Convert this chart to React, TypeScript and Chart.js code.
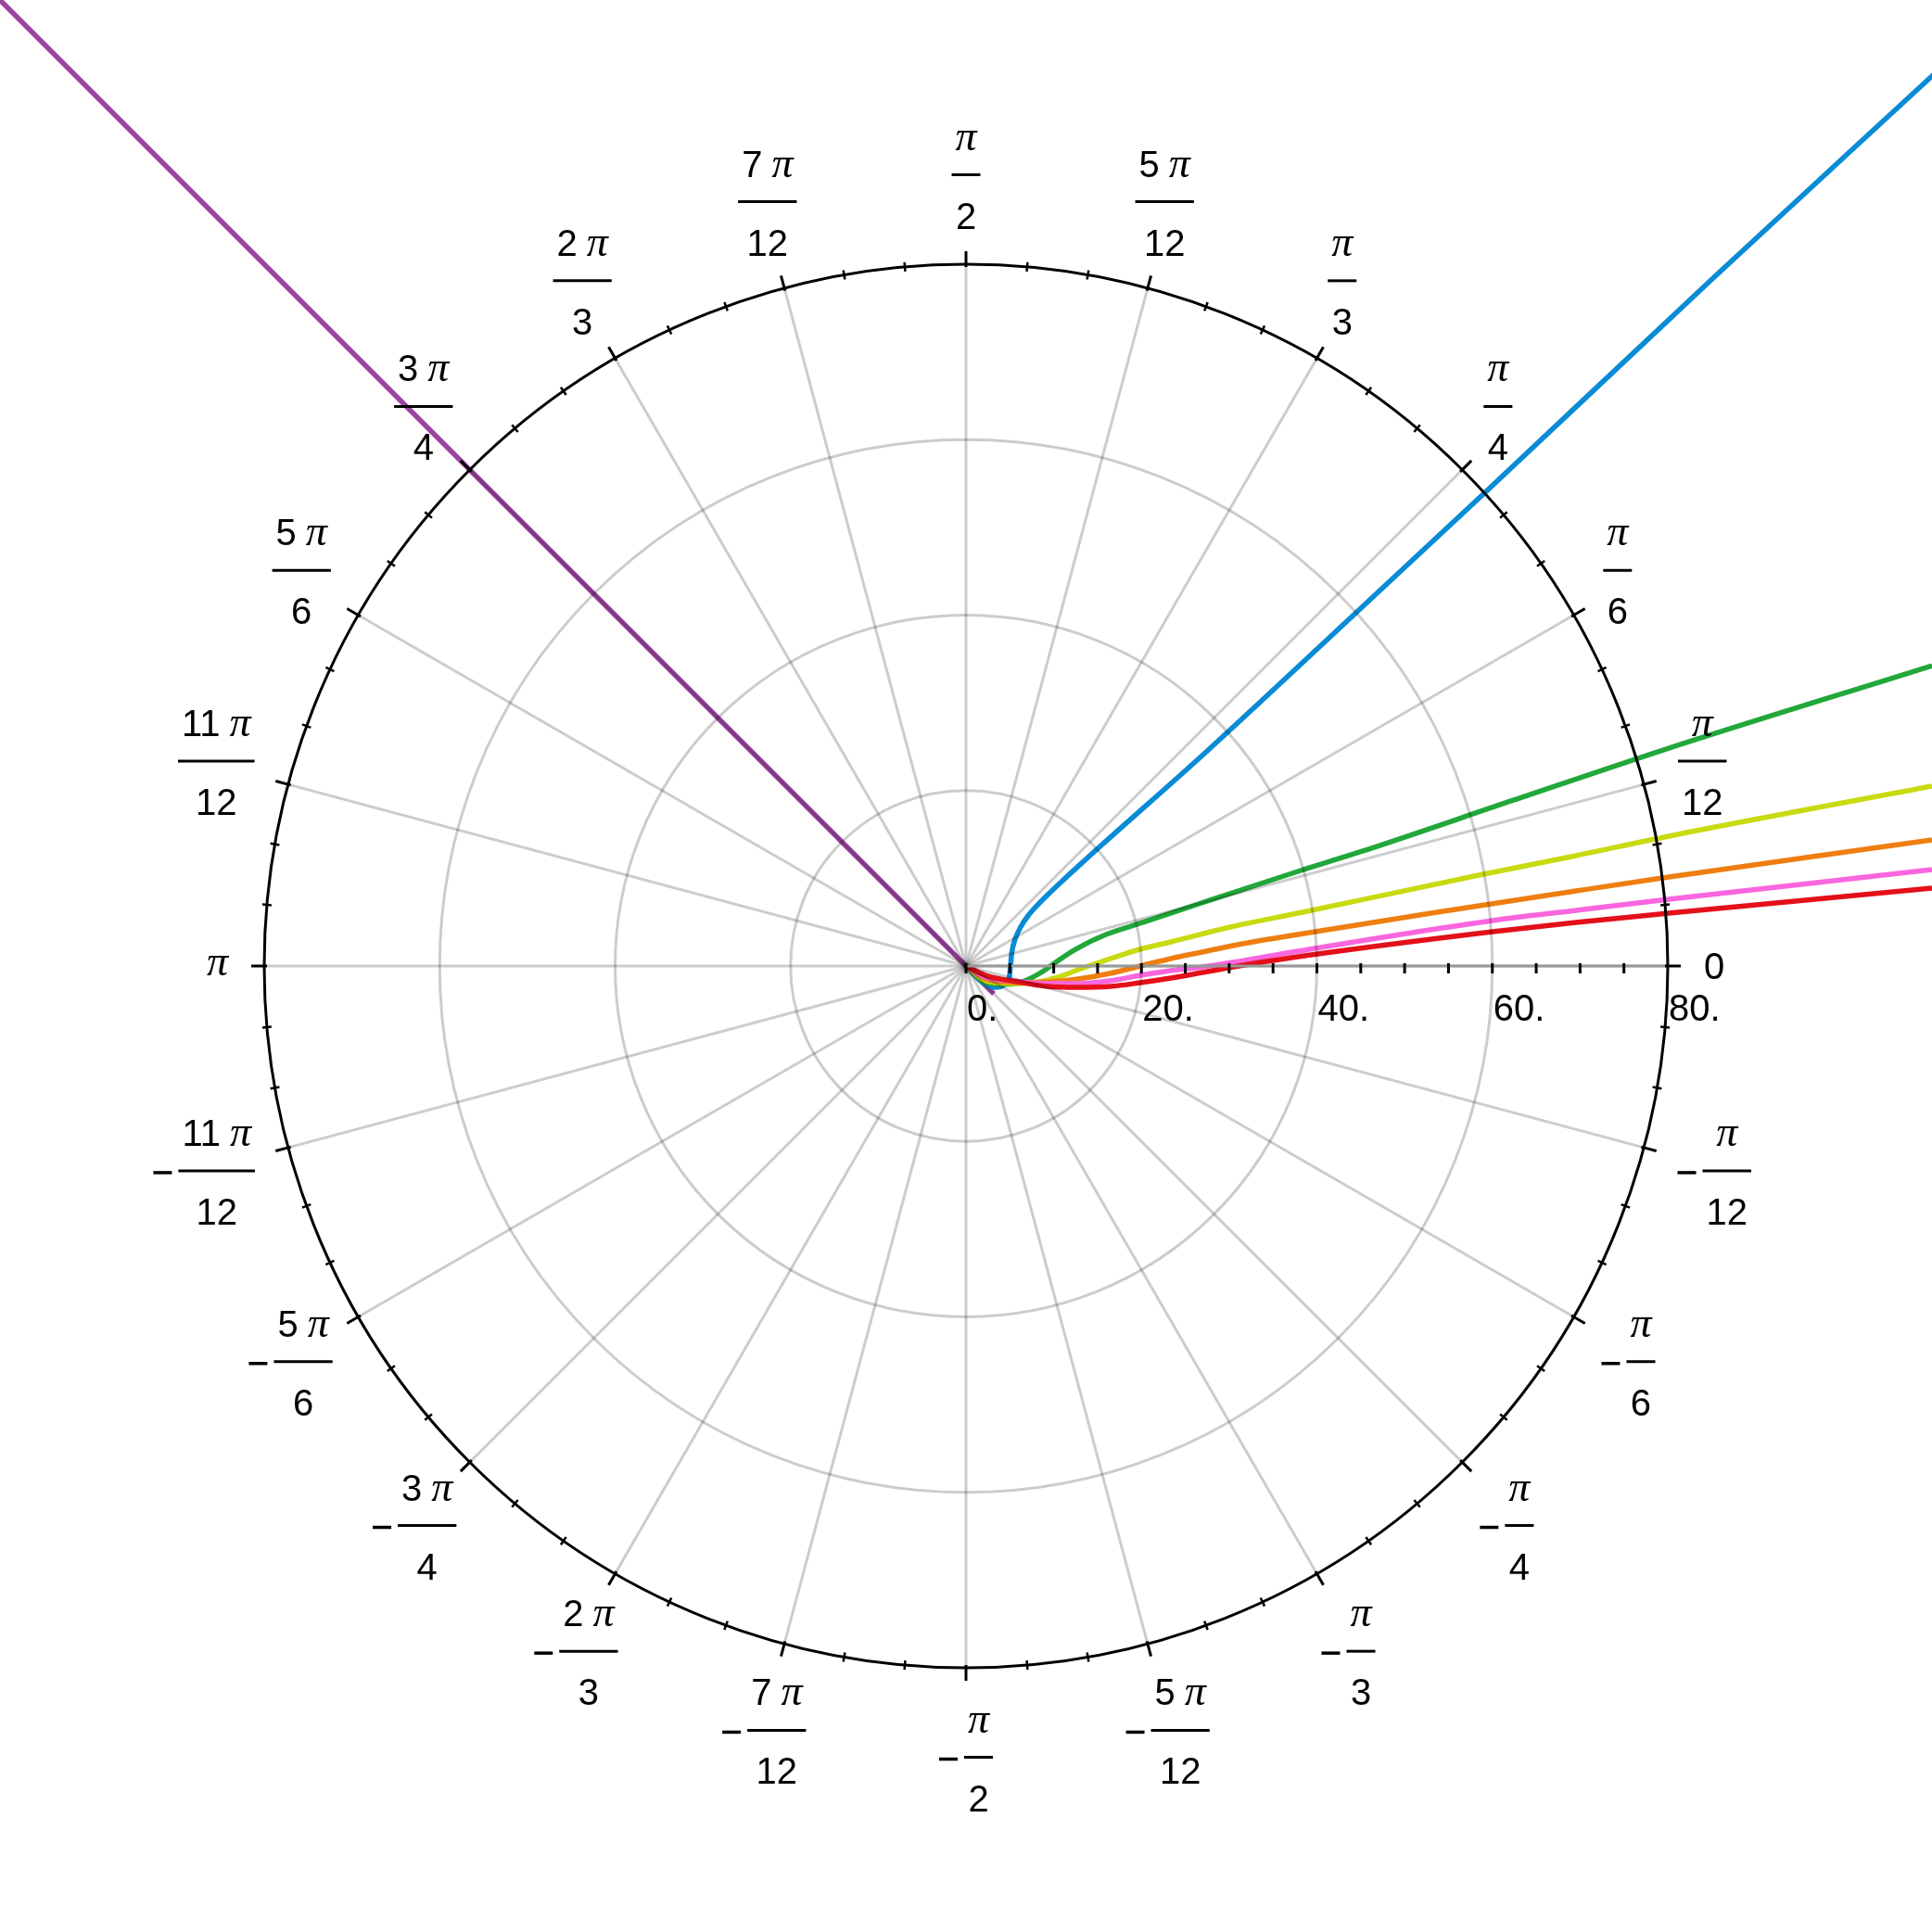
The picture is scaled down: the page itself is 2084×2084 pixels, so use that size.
import React, { useEffect, useRef } from "react";
import { Chart, registerables } from "chart.js";

Chart.register(...registerables);

// ---------------- data (x, y in plot units) ----------------
const RADIAL_MAX = 80;
const radialGridValues = [20, 40, 60];
const radialTickValues = [0, 5, 10, 15, 20, 25, 30, 35, 40, 45, 50, 55, 60, 65, 70, 75];
const radialTickLabelValues = [0, 20, 40, 60, 80];
const radialTickLabels = ["0.", "20.", "40.", "60.", "80."];
const angleTicksDeg = [0, 15, 30, 45, 60, 75, 90, 105, 120, 135, 150, 165, 180,
  -15, -30, -45, -60, -75, -90, -105, -120, -135, -150, -165];
const angleTickLabels = ["0", "π/12", "π/6", "π/4", "π/3", "5 π/12", "π/2", "7 π/12", "2 π/3", "3 π/4", "5 π/6", "11 π/12", "π",
  "-π/12", "-π/6", "-π/4", "-π/3", "-5 π/12", "-π/2", "-7 π/12", "-2 π/3", "-3 π/4", "-5 π/6", "-11 π/12"];
const minorAngleStepDeg = 5;

const redPts: [number, number][] = [
  [0, 0], [2.22, -1.06], [5.81, -1.8], [9.3, -2.33], [12.79, -2.43], [16.38, -2.33], [19.87, -1.9],
  [23.36, -1.37], [26.95, -0.74], [30.44, -0.11], [33.61, 0.42], [37.83, 1.06], [60.03, 3.91],
  [69.54, 4.97], [80.11, 6.02], [110.12, 8.88], [116, 9.4],
];
const pinkPts: [number, number][] = [
  [0, 0], [2.22, -1.27], [5.81, -1.75], [9.3, -2.01], [12.79, -2.01], [16.38, -1.69], [19.87, -1.06],
  [23.36, -0.53], [26.95, -0.11], [30.44, 0.42], [37.83, 1.69], [60.03, 5.18], [69.54, 6.34],
  [80.11, 7.61], [110.12, 10.99], [116, 11.7],
];
const orangePts: [number, number][] = [
  [0, 0], [2.22, -1.48], [5.81, -1.9], [9.3, -1.8], [12.79, -1.48], [16.38, -0.85], [19.87, 0],
  [23.36, 0.85], [26.95, 1.59], [30.44, 2.33], [37.83, 3.59], [53.69, 6.13], [69.54, 8.56],
  [80.11, 10.14], [110.12, 14.37], [116, 15.2],
];
const yellowPts: [number, number][] = [
  [0, 0], [2.22, -1.69], [5.07, -2.0], [7.5, -1.95], [9.3, -1.59], [11.1, -1.06], [12.79, -0.42],
  [14.58, 0.21], [18.07, 1.37], [20.19, 2.01], [23.36, 2.75], [30.12, 4.44], [37.83, 6.02],
  [58.97, 10.46], [69.54, 12.58], [80.11, 14.8], [110.12, 20.5], [116, 21.6],
];
const greenPts: [number, number][] = [
  [0, 0], [2.22, -1.9], [4.54, -2.1], [5.92, -1.95], [7.19, -1.48], [8.56, -0.74], [10.04, 0.3],
  [12.47, 1.9], [15.96, 3.59], [20.19, 4.97], [26.53, 7.08], [37.83, 10.78], [44.91, 13.0],
  [62.46, 18.92], [80.11, 24.83], [110.12, 34.24], [116, 36.1],
];
const bluePts: [number, number][] = [
  [0, 0], [1.06, -1.16], [2.11, -2.01], [3.17, -2.43], [4.02, -2.33], [4.65, -1.8], [4.97, -1.06],
  [5.07, 0], [5.23, 1.59], [5.6, 3.06], [6.24, 4.46], [7.08, 5.73], [8.14, 6.94], [9.41, 8.21],
  [10.89, 9.62], [12.68, 11.27], [15.11, 13.47], [27.27, 24.31], [44.91, 40.69], [58.97, 53.79],
  [85.39, 78.63], [110.01, 101.35], [115, 105.96],
];
const purplePts: [number, number][] = [[3.17, -3.17], [0, 0], [-116, 116]];

const seriesNames = ["red", "pink", "orange", "yellow", "green", "blue", "purple"];
const seriesPoints = [redPts, pinkPts, orangePts, yellowPts, greenPts, bluePts, purplePts];
const seriesColors = ["#E3101A", "#FA66DE", "#EE7E10", "#C8DA10", "#22A83A", "#0A8BD6", "#9B46A0"];

// ---------------- styling ----------------
const HALF_RANGE = 1042 / 9.4625;
const SANS = "40px 'Liberation Sans', Arial, sans-serif";
const PI_FONT = "italic 46px 'Liberation Serif', 'Times New Roman', serif";

function exprWidth(ctx: CanvasRenderingContext2D, s: string) {
  if (s.includes("π")) {
    const coef = s.replace("π", "").trim();
    ctx.font = PI_FONT;
    let w = ctx.measureText("π").width;
    if (coef) {
      ctx.font = SANS;
      w += ctx.measureText(coef).width + 10;
    }
    return w;
  }
  ctx.font = SANS;
  return ctx.measureText(s).width;
}

function drawExpr(ctx: CanvasRenderingContext2D, s: string, cxp: number, baseline: number) {
  const w = exprWidth(ctx, s);
  let x = cxp - w / 2;
  ctx.textAlign = "left";
  ctx.textBaseline = "alphabetic";
  if (s.includes("π")) {
    const coef = s.replace("π", "").trim();
    if (coef) {
      ctx.font = SANS;
      ctx.fillText(coef, x, baseline);
      x += ctx.measureText(coef).width + 10;
    }
    ctx.font = PI_FONT;
    ctx.fillText("π", x, baseline);
  } else {
    ctx.font = SANS;
    ctx.fillText(s, x, baseline);
  }
}

const polarFrame = {
  id: "polarFrame",
  afterDatasetsDraw(chart: any) {
    const ctx: CanvasRenderingContext2D = chart.ctx;
    const xs = chart.scales.x;
    const ys = chart.scales.y;
    const cx = xs.getPixelForValue(0);
    const cy = ys.getPixelForValue(0);
    const rpx = (v: number) => xs.getPixelForValue(v) - cx;
    const R = rpx(RADIAL_MAX);
    ctx.save();

    // grid
    ctx.strokeStyle = "rgba(0,0,0,0.2)";
    ctx.lineWidth = 3;
    for (const v of radialGridValues) {
      ctx.beginPath();
      ctx.arc(cx, cy, rpx(v), 0, Math.PI * 2);
      ctx.stroke();
    }
    for (const d of angleTicksDeg) {
      const a = (d * Math.PI) / 180;
      ctx.beginPath();
      ctx.moveTo(cx, cy);
      ctx.lineTo(cx + R * Math.cos(a), cy - R * Math.sin(a));
      ctx.stroke();
    }

    // radial axis
    ctx.strokeStyle = "#999999";
    ctx.lineWidth = 3;
    ctx.beginPath();
    ctx.moveTo(cx, cy);
    ctx.lineTo(cx + R, cy);
    ctx.stroke();
    ctx.strokeStyle = "#000";
    ctx.lineWidth = 3;
    for (const v of radialTickValues) {
      const x = cx + rpx(v);
      ctx.beginPath();
      ctx.moveTo(x, cy - 3);
      ctx.lineTo(x, cy + 8);
      ctx.stroke();
    }
    ctx.fillStyle = "#000";
    ctx.font = SANS;
    ctx.textAlign = "left";
    ctx.textBaseline = "alphabetic";
    radialTickLabelValues.forEach((v, i) => {
      ctx.fillText(radialTickLabels[i], cx + rpx(v) + 1, cy + 59);
    });

    // outer circle
    ctx.strokeStyle = "#000";
    ctx.lineWidth = 3;
    ctx.beginPath();
    ctx.arc(cx, cy, R, 0, Math.PI * 2);
    ctx.stroke();

    // angular ticks
    for (let d = 0; d < 360; d += minorAngleStepDeg) {
      const a = (d * Math.PI) / 180;
      const major = d % 15 === 0;
      const r0 = major ? R - 3 : R - 5;
      const r1 = major ? R + 14 : R + 5;
      ctx.lineWidth = major ? 3 : 2.5;
      ctx.beginPath();
      ctx.moveTo(cx + r0 * Math.cos(a), cy - r0 * Math.sin(a));
      ctx.lineTo(cx + r1 * Math.cos(a), cy - r1 * Math.sin(a));
      ctx.stroke();
    }

    // angular labels
    const gap = 39;
    angleTicksDeg.forEach((d, i) => {
      const label = angleTickLabels[i];
      const a = (d * Math.PI) / 180;
      const ax = cx + (R + gap) * Math.cos(a);
      const ay = cy - (R + gap) * Math.sin(a);
      const neg = label.startsWith("-");
      const body = neg ? label.slice(1) : label;
      ctx.fillStyle = "#000";
      ctx.strokeStyle = "#000";
      if (body.includes("/")) {
        const [num, den] = body.split("/");
        const barW = Math.max(exprWidth(ctx, num), exprWidth(ctx, den)) + 8;
        const totalW = neg ? barW + 27 : barW;
        const hw = totalW / 2;
        const hh = 57.5;
        const bx = ax + Math.cos(a) * hw;
        const by = ay - Math.sin(a) * hh;
        const left = bx - hw;
        const fx = left + (neg ? 27 : 0) + barW / 2;
        if (neg) {
          ctx.lineWidth = 3.5;
          ctx.beginPath();
          ctx.moveTo(left, by + 2);
          ctx.lineTo(left + 20, by + 2);
          ctx.stroke();
        }
        ctx.lineWidth = 3;
        ctx.beginPath();
        ctx.moveTo(fx - barW / 2, by);
        ctx.lineTo(fx + barW / 2, by);
        ctx.stroke();
        drawExpr(ctx, num, fx, by - 27);
        drawExpr(ctx, den, fx, by + 58);
      } else {
        const w = exprWidth(ctx, body);
        const hw = w / 2;
        const hh = 15;
        const bx = ax + Math.cos(a) * hw;
        const by = ay - Math.sin(a) * hh;
        drawExpr(ctx, body, bx, body === "π" ? by + 10 : by + 14);
      }
    });
    ctx.restore();
  },
};

export default function App() {
  const ref = useRef<HTMLCanvasElement | null>(null);
  useEffect(() => {
    document.body.style.margin = "0";
    const canvas = ref.current;
    if (!canvas) return;
    const chart = new Chart(canvas, {
      type: "scatter",
      data: {
        datasets: seriesPoints.map((pts, i) => ({
          label: seriesNames[i],
          data: pts.map(([x, y]) => ({ x, y })),
          showLine: true,
          borderColor: seriesColors[i],
          backgroundColor: seriesColors[i],
          borderWidth: 5.5,
          pointRadius: 0,
          pointHoverRadius: 0,
          cubicInterpolationMode: seriesNames[i] === "purple" ? "default" : "monotone",
          tension: seriesNames[i] === "purple" ? 0 : 0.4,
          borderJoinStyle: "round",
        })),
      },
      options: {
        responsive: false,
        animation: false,
        devicePixelRatio: 1,
        layout: { padding: 0 },
        plugins: { legend: { display: false }, tooltip: { enabled: false } },
        scales: {
          x: { type: "linear", min: -HALF_RANGE, max: HALF_RANGE, display: false },
          y: { type: "linear", min: -HALF_RANGE, max: HALF_RANGE, display: false },
        },
      } as any,
      plugins: [polarFrame as any],
    });
    return () => chart.destroy();
  }, []);
  return <canvas ref={ref} width={2084} height={2084} style={{ display: "block" }} />;
}
